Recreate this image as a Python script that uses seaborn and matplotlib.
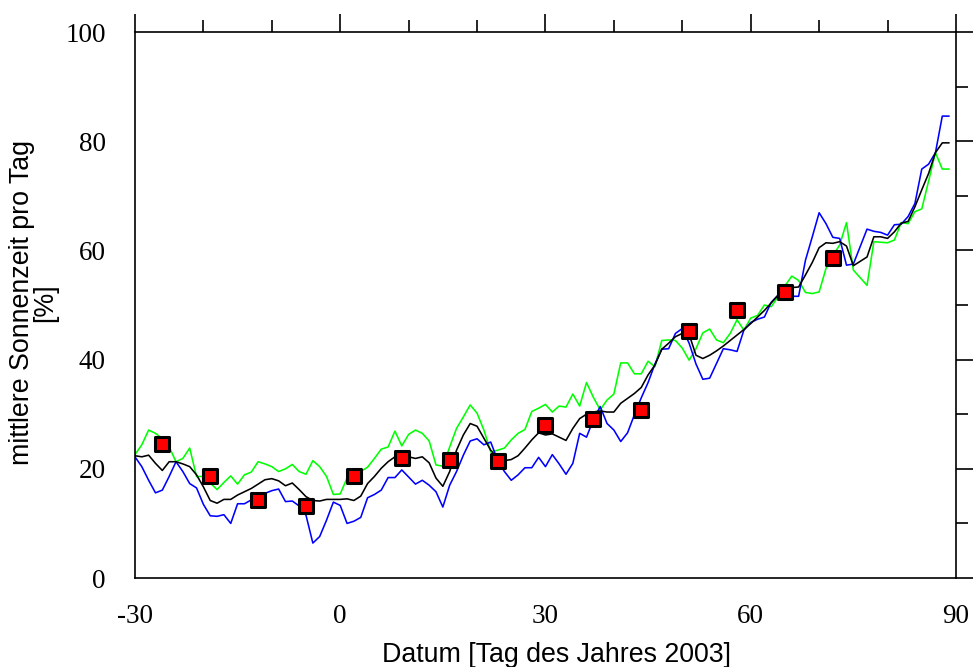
import numpy as np
import pandas as pd
import matplotlib
matplotlib.use("Agg")
import matplotlib.pyplot as plt
import seaborn as sns
from matplotlib.ticker import MultipleLocator

days = list(range(-30, 90))

green = [22.6, 24.4, 27.1, 26.5, 25.5, 24.0, 21.3, 21.9, 23.8, 18.6,
         18.6, 17.4, 16.2, 17.5, 18.7, 17.2, 18.9, 19.4, 21.3, 20.9,
         20.4, 19.5, 20.0, 20.8, 19.5, 19.0, 21.5, 20.4, 18.6, 15.3,
         15.4, 18.3, 19.0, 19.5, 20.3, 21.9, 23.6, 24.0, 26.9, 24.2,
         26.3, 27.1, 26.5, 25.1, 20.7, 20.5, 24.0, 27.4, 29.5, 31.7,
         30.2, 27.1, 23.1, 23.4, 23.8, 25.3, 26.5, 27.2, 30.5, 31.1,
         31.8, 30.4, 31.5, 31.3, 33.7, 31.5, 35.8, 33.1, 30.8, 32.6,
         33.7, 39.4, 39.4, 37.4, 37.4, 39.7, 38.7, 43.5, 43.6, 43.5,
         42.1, 39.9, 42.0, 44.9, 45.6, 43.6, 43.1, 44.8, 47.3, 45.4,
         47.6, 48.1, 50.0, 49.7, 51.5, 53.5, 55.3, 54.5, 52.3, 52.1,
         52.4, 56.7, 59.0, 61.0, 65.1, 56.4, 55.0, 53.6, 61.6, 61.5,
         61.4, 61.9, 65.1, 64.9, 67.1, 67.6, 72.7, 77.9, 74.9, 74.9]

blue = [22.2, 20.4, 17.9, 15.6, 16.1, 18.6, 21.3, 19.5, 17.3, 16.5,
        13.5, 11.4, 11.3, 11.6, 10.0, 13.6, 13.6, 14.3, 14.8, 15.5,
        16.0, 16.3, 14.0, 14.1, 13.2, 11.5, 6.4, 7.6, 10.6, 13.9,
        13.3, 10.0, 10.4, 11.1, 14.7, 15.3, 16.1, 18.4, 18.4, 19.8,
        18.5, 17.2, 17.9, 17.0, 15.8, 13.0, 17.0, 19.5, 22.5, 25.1,
        25.5, 24.4, 24.9, 21.6, 19.5, 17.9, 18.9, 20.2, 20.2, 22.1,
        20.4, 22.6, 20.9, 19.0, 21.0, 26.5, 25.8, 29.0, 31.4, 28.3,
        27.1, 25.0, 26.6, 29.9, 33.0, 35.8, 39.2, 41.9, 42.0, 44.8,
        45.7, 43.0, 39.2, 36.4, 36.6, 39.3, 42.0, 41.8, 41.5, 45.4,
        46.8, 47.4, 47.8, 50.5, 51.8, 52.0, 51.6, 51.6, 58.2, 62.5,
        66.9, 64.9, 62.4, 62.2, 57.3, 57.5, 60.7, 63.9, 63.5, 63.3,
        62.8, 64.7, 64.8, 66.2, 68.6, 74.9, 75.8, 77.9, 84.6, 84.6]

black = [22.4, 22.2, 22.5, 21.0, 19.7, 21.3, 21.3, 20.9, 20.4, 18.9,
         16.7, 14.2, 13.7, 14.4, 14.4, 15.2, 15.8, 16.4, 17.2, 18.0,
         18.2, 17.8, 16.9, 17.4, 16.2, 14.9, 14.2, 14.1, 14.4, 14.4,
         14.4, 14.5, 14.2, 15.0, 17.3, 18.6, 20.1, 21.3, 22.2, 22.4,
         22.2, 21.9, 22.2, 21.1, 18.3, 16.8, 19.5, 23.4, 26.2, 28.3,
         27.8, 25.6, 23.4, 22.0, 21.5, 21.7, 22.4, 23.8, 25.3, 26.6,
         26.2, 26.4, 25.8, 25.2, 27.4, 29.2, 30.0, 30.4, 30.6, 30.4,
         30.4, 32.0, 32.9, 33.8, 34.9, 37.2, 39.0, 41.9, 43.0, 44.2,
         44.8, 44.6, 40.8, 40.2, 40.8, 41.6, 42.5, 43.5, 44.5, 45.5,
         46.6, 47.8, 49.0, 50.4, 51.8, 53.2, 53.2, 53.3, 55.5, 57.8,
         60.5, 61.4, 61.3, 61.6, 60.8, 57.2, 58.0, 58.8, 62.5, 62.5,
         62.2, 63.4, 65.0, 65.3, 68.0, 71.1, 74.1, 77.9, 79.7, 79.7]

week_days = [-26, -19, -12, -5, 2, 9, 16, 23, 30, 37, 44, 51, 58, 65, 72]
week_vals = [24.5, 18.7, 14.3, 13.2, 18.6, 22.0, 21.7, 21.4, 28.1, 29.2,
             30.8, 45.3, 49.0, 52.4, 58.6]

xticks = [-30, 0, 30, 60, 90]
yticks = [0, 20, 40, 60, 80, 100]

sns.set_style("white")
plt.rcParams["text.color"] = "black"
plt.rcParams["axes.labelcolor"] = "black"
plt.rcParams["xtick.color"] = "black"
plt.rcParams["ytick.color"] = "black"

df = pd.DataFrame({
    "day": days * 3,
    "value": green + blue + black,
    "series": ["green"] * len(days) + ["blue"] * len(days) + ["black"] * len(days),
})
wk = pd.DataFrame({"day": week_days, "value": week_vals})

fig = plt.figure(figsize=(9.73, 6.67), dpi=100)
ax = fig.add_axes([0.1387, 0.1334, 0.8438, 0.8186])

sns.lineplot(data=df, x="day", y="value", hue="series",
             palette={"green": "#00ff00", "blue": "#0000ff", "black": "#000000"},
             hue_order=["green", "blue", "black"], linewidth=1.15,
             legend=False, ax=ax, estimator=None, sort=False)
sns.scatterplot(data=wk, x="day", y="value", marker="s", s=100,
                color="#ff0000", edgecolor="black", linewidth=2.2,
                legend=False, ax=ax, zorder=5)

ax.set_xlim(-30, 90)
ax.set_ylim(0, 100)
ax.set_xticks(xticks)
ax.set_yticks(yticks)
ax.xaxis.set_minor_locator(MultipleLocator(10))
ax.yaxis.set_minor_locator(MultipleLocator(10))
ax.set_xticklabels([str(t) for t in xticks], family="Liberation Serif",
                   fontsize=19.5, color="black")
ax.set_yticklabels([str(t) for t in yticks], family="Liberation Serif",
                   fontsize=19.5, color="black")
ax.tick_params(which="major", direction="out", length=13, width=1.2,
               top=True, right=True, labeltop=False, labelright=False,
               color="black", labelcolor="black")
ax.tick_params(axis="y", which="major", pad=8)
ax.tick_params(axis="x", which="major", pad=6)
ax.tick_params(which="minor", direction="out", length=8.5, width=1.2,
               top=True, right=True, color="black")
for s in ax.spines.values():
    s.set_visible(True)
    s.set_color("black")
    s.set_linewidth(1.2)

ax.set_xlabel("Datum [Tag des Jahres 2003]", family="Liberation Sans",
              fontsize=19.3, color="black")
ax.xaxis.set_label_coords(0.513, -0.117)
ax.set_ylabel("mittlere Sonnenzeit pro Tag\n[%]", family="Liberation Sans",
              fontsize=19.3, linespacing=0.85, color="black")
ax.yaxis.set_label_coords(-0.094, 0.505)

fig.savefig("out.png", dpi=100)
